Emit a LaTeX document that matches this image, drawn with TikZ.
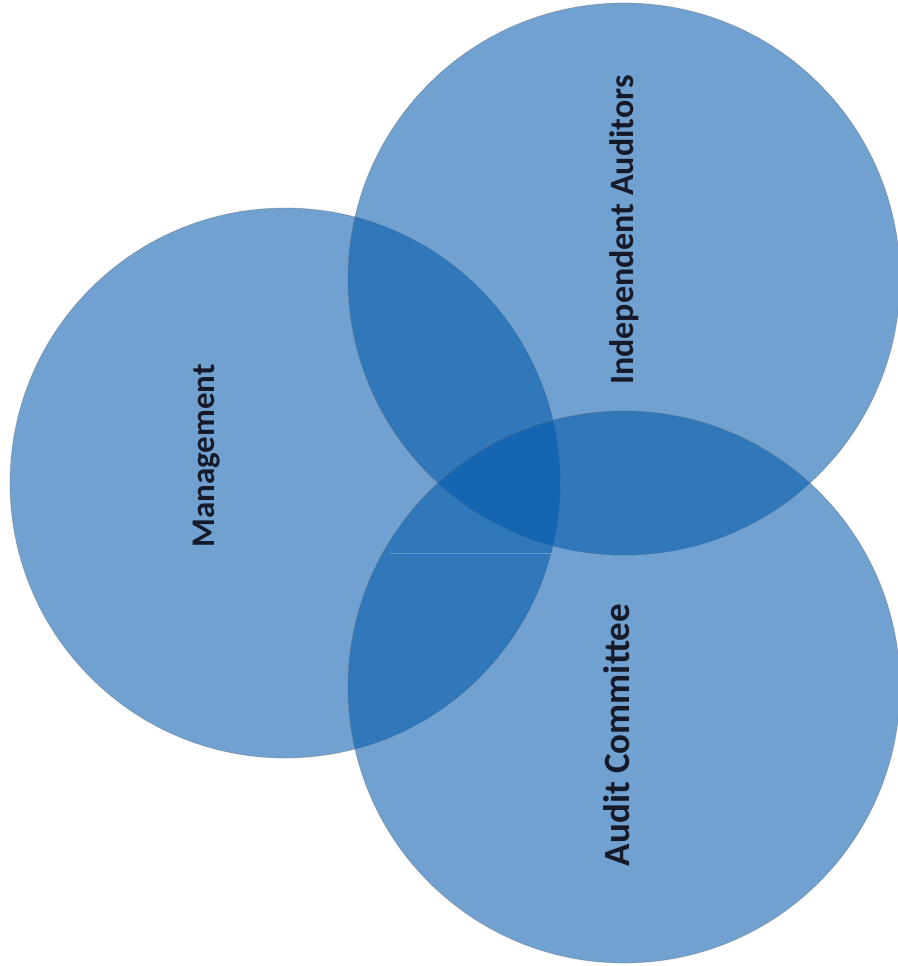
\documentclass[tikz,border=0pt]{standalone}
\usepackage{fontspec}
\setmainfont{Carlito}
\definecolor{vennblue}{RGB}{0,88,172}
\definecolor{labelink}{RGB}{22,26,40}
\begin{document}
\begin{tikzpicture}[x=1pt,y=-1pt,
  venn/.style={circle,fill=vennblue,fill opacity=0.56,draw=black!60,draw opacity=0.35,line width=0.8pt,inner sep=0pt},
  lbl/.style={font=\bfseries\fontsize{#1}{40}\selectfont,text=labelink,rotate=90}]
\useasboundingbox (0,0) rectangle (897,966);
\fill[white] (0,0) rectangle (897,966);
\node[venn,minimum size=550pt] (mgmt) at (285,483) {};
\node[venn,minimum size=552pt] (ia) at (624,279) {};
\node[venn,minimum size=552pt] (ac) at (624,687) {};
\coordinate (s1) at (390,553);
\coordinate (s2) at (551,553);
\draw[white,opacity=0.25,line width=1pt] (s1) -- (s2);
\node[lbl=33] (tm) at (207,456) {Management};
\node[lbl=34] (tia) at (624,230) {Independent Auditors};
\node[lbl=37] (tac) at (617,735) {Audit Committee};
\end{tikzpicture}
\end{document}
